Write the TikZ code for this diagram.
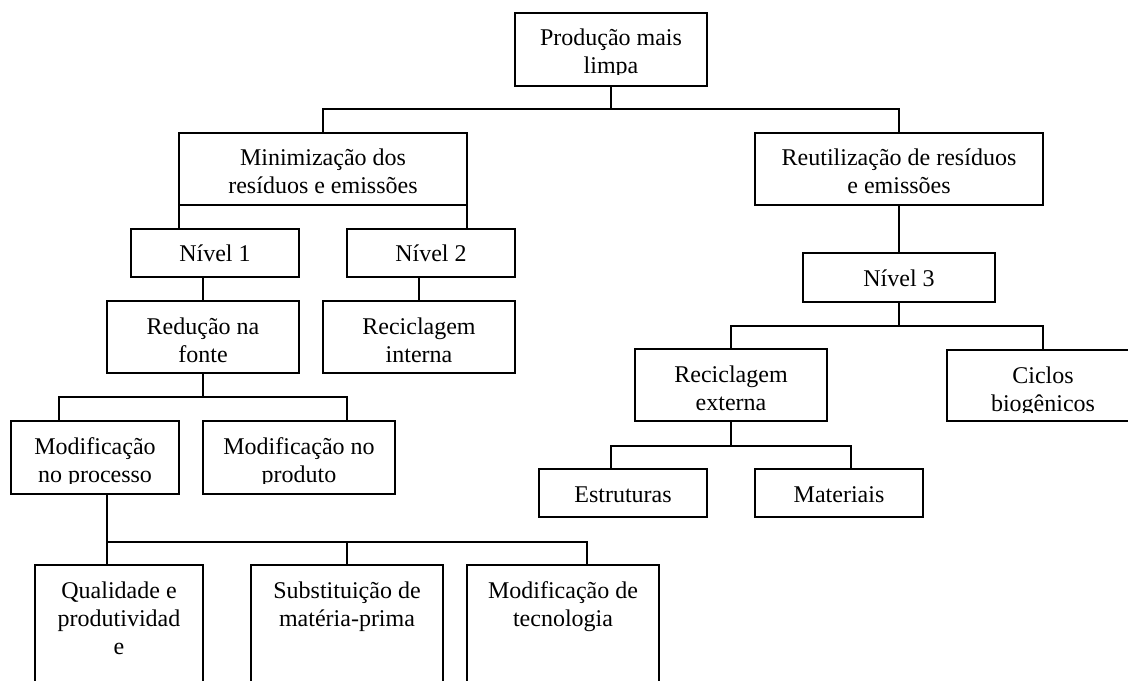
\documentclass[tikz,border=0pt]{standalone}
\usepackage{fontspec}
\setmainfont{Liberation Serif}
\newlength\px
\setlength\px{0.75pt}
\newcommand\bt[3]{\parbox[t][#2\px][t]{#1\px}{\centering\fontsize{18}{21}\selectfont\rule{0pt}{33\px}#3}}
\tikzset{
  bx/.style={draw, line width=1.5pt, inner sep=0pt, outer sep=0pt, anchor=north west},
  cn/.style={line width=1.5pt},
  hide/.style={fill=white}
}
\begin{document}
\begin{tikzpicture}[x=0.75pt, y=-0.75pt]
\useasboundingbox (0,0) rectangle (1128,681);
\clip (0,0) rectangle (1128,681);
% boxes
\node[bx] (top)  at (515,13)  {\bt{192}{73}{Produção mais\\limpa}};
\node[bx] (min)  at (179,133) {\bt{288}{72}{Minimização dos\\resíduos e emissões}};
\node[bx] (reu)  at (755,133) {\bt{288}{72}{Reutilização de resíduos\\e emissões}};
\node[bx] (n1)   at (131,229) {\bt{168}{48}{Nível 1}};
\node[bx] (n2)   at (347,229) {\bt{168}{48}{Nível 2}};
\node[bx] (red)  at (107,301) {\bt{192}{72}{Redução na\\fonte}};
\node[bx] (rint) at (323,301) {\bt{192}{72}{Reciclagem\\interna}};
\node[bx] (proc) at (11,421)  {\bt{168}{73}{Modificação\\no processo}};
\node[bx] (prod) at (203,421) {\bt{192}{73}{Modificação no\\produto}};
\node[bx] (qual) at (35,565)  {\bt{168}{140}{Qualidade e\\produtividad\\e}};
\node[bx] (subs) at (251,565) {\bt{192}{140}{Substituição de\\matéria-prima}};
\node[bx] (tec)  at (467,565) {\bt{192}{140}{Modificação de\\tecnologia}};
\node[bx] (n3)   at (803,253) {\bt{192}{49}{Nível 3}};
\node[bx] (rext) at (635,349) {\bt{192}{72}{Reciclagem\\externa}};
\node[bx] (cic)  at (947,350) {\bt{192}{71}{Ciclos\\biogênicos}};
\node[bx] (est)  at (539,469) {\bt{168}{48}{Estruturas}};
\node[bx] (mat)  at (755,469) {\bt{168}{48}{Materiais}};
% clipped descenders of the text boxes
\fill[hide] (517,75.5) rectangle (705,85);
\fill[hide] (13,483.5) rectangle (177,493);
\fill[hide] (205,483.5) rectangle (393,493);
\fill[hide] (949,412.5) rectangle (1137,420);
% junctions
\coordinate (jA) at (611,109);
\coordinate (jBl) at (59,397);
\coordinate (jBr) at (347,397);
\coordinate (jCl) at (107,542);
\coordinate (jCr) at (587,542);
\coordinate (jD) at (899,326);
\coordinate (jEl) at (611,446);
\coordinate (jEr) at (851,446);
% connectors
\draw[cn] (top.south) -- (jA);
\draw[cn] (min.north) |- (jA) -| (reu.north);
\draw[cn] (min.south west) -- (min.south west |- n1.north);
\draw[cn] (min.south east) -- (min.south east |- n2.north);
\draw[cn] (red.north |- n1.south) -- (red.north);
\draw[cn] (rint.north |- n2.south) -- (rint.north);
\draw[cn] (red.south) -- (red.south |- jBl);
\draw[cn] (jBl |- proc.north) -- (jBl) -- (jBr) -- (jBr |- prod.north);
\draw[cn] (jCl |- proc.south) -- (jCl |- qual.north);
\draw[cn] (jCl) -- (jCr) -- (jCr |- tec.north);
\draw[cn] (subs.north) -- (subs.north |- jCl);
\draw[cn] (reu.south) -- (reu.south |- n3.north);
\draw[cn] (n3.south) -- (n3.south |- jD);
\draw[cn] (rext.north) |- (jD) -| (cic.north);
\draw[cn] (rext.south) -- (rext.south |- jEl);
\draw[cn] (jEl |- est.north) -- (jEl) -- (jEr) -- (jEr |- mat.north);
\end{tikzpicture}
\end{document}
